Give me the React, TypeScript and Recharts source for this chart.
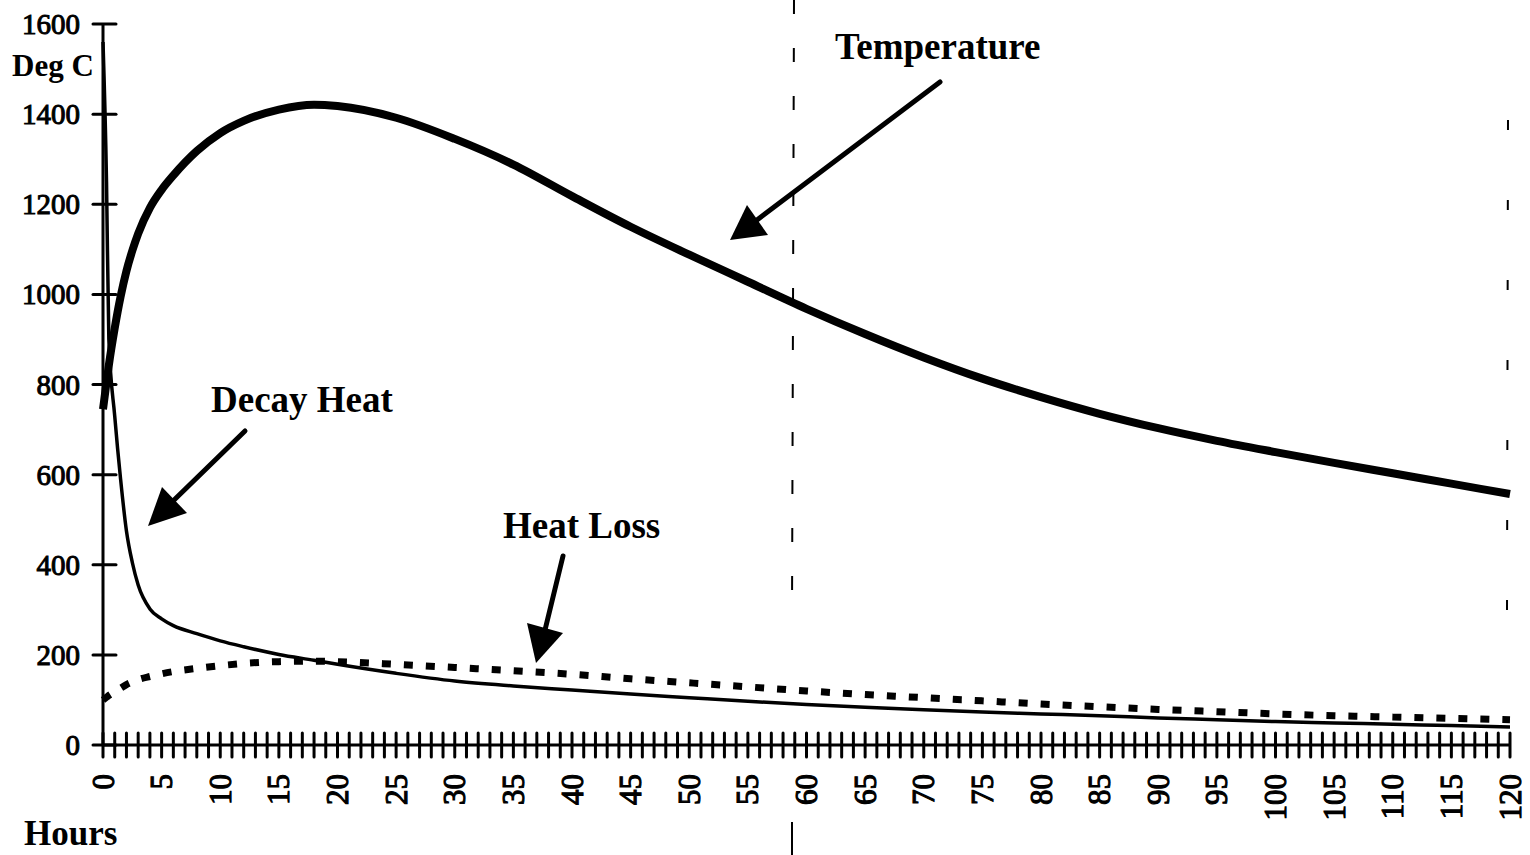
import React from 'react';
import { LineChart, Line, XAxis, YAxis } from 'recharts';

const hours = [0, 0.3, 0.5, 1, 1.5, 2, 2.5, 3, 4, 5, 6, 8, 10, 12, 15, 18, 20, 25, 30, 35, 40, 45, 50, 55, 60, 65, 70, 75, 80, 85, 90, 95, 100, 105, 110, 115, 120];
const temperature = [745, 805, 843, 925, 995, 1052, 1097, 1135, 1192, 1232, 1264, 1318, 1358, 1385, 1410, 1421, 1418, 1392, 1345, 1288, 1218, 1150, 1088, 1028, 968, 912, 860, 813, 772, 735, 703, 675, 650, 626, 603, 580, 557];
const decayHeat = [1560, 1250, 900, 730, 590, 475, 405, 355, 302, 280, 265, 247, 231, 218, 201, 188, 179, 159, 142, 131, 122, 113, 105, 97, 90, 84, 78, 73, 69, 65, 60, 56, 52, 49, 46, 43, 40];
const heatLoss = [100, 106, 110, 118, 126, 134, 140, 145, 152, 158, 163, 170, 176, 181, 185, 186, 185, 179, 172, 165, 157, 147, 138, 129, 120, 112, 105, 98, 91, 85, 79, 74, 69, 65, 62, 59, 56];

const yTicks = [0, 200, 400, 600, 800, 1000, 1200, 1400, 1600];
const hourTicks = Array.from({ length: 121 }, (_, i) => i);

const data = hours.map((h, i) => ({
  hour: h,
  temperature: temperature[i],
  decay: decayHeat[i],
  loss: heatLoss[i],
}));

const serif = '"Liberation Serif", "DejaVu Serif", serif';

const XTick = (props: any) => {
  const { x, y, payload } = props;
  const v = payload.value;
  return (
    <g>
      <line x1={x} y1={y - 12} x2={x} y2={y + 12} stroke="#000" strokeWidth={3} strokeLinecap="round" />
      {v % 5 === 0 && (
        <text
          transform={`translate(${x},${y + 29}) rotate(-90)`}
          textAnchor="end"
          dominantBaseline="central"
          fontFamily={serif}
          fontSize={31}
          fill="#000"
          stroke="#000"
          strokeWidth={1.1}
        >
          {v}
        </text>
      )}
    </g>
  );
};

const YTick = (props: any) => {
  const { x, y, payload } = props;
  return (
    <g>
      <line x1={x - 10} y1={y} x2={x + 13} y2={y} stroke="#000" strokeWidth={3} strokeLinecap="round" />
      <text
        x={x - 23}
        y={y + 10}
        textAnchor="end"
        fontFamily={serif}
        fontSize={29}
        fill="#000"
        stroke="#000"
        strokeWidth={1}
      >
        {payload.value}
      </text>
    </g>
  );
};

const labelStyle = { fontFamily: serif, fontWeight: 700, fill: '#000' } as const;

export default function App() {
  return (
    <div style={{ position: 'absolute', left: 0, top: 0, width: 1530, height: 855, background: '#fff' }}>
      <LineChart width={1530} height={855} data={data} margin={{ top: 24, right: 20, left: 23, bottom: 30 }}>
        <XAxis
          dataKey="hour"
          type="number"
          domain={[0, 120]}
          ticks={hourTicks}
          interval={0}
          height={80}
          tickSize={0}
          tickMargin={0}
          tickLine={false}
          axisLine={{ stroke: '#000', strokeWidth: 3 }}
          tick={<XTick />}
        />
        <YAxis
          type="number"
          domain={[0, 1600]}
          ticks={yTicks}
          interval={0}
          width={80}
          tickSize={0}
          tickMargin={0}
          tickLine={false}
          axisLine={{ stroke: '#000', strokeWidth: 3 }}
          tick={<YTick />}
        />
        <Line type="monotone" dataKey="loss" stroke="#000" strokeWidth={7} strokeDasharray="9 13" dot={false} isAnimationActive={false} />
        <Line type="monotone" dataKey="decay" stroke="#000" strokeWidth={3.5} dot={false} isAnimationActive={false} />
        <Line type="monotone" dataKey="temperature" stroke="#000" strokeWidth={8} dot={false} isAnimationActive={false} />
      </LineChart>
      <svg width={1530} height={855} style={{ position: 'absolute', left: 0, top: 0, pointerEvents: 'none' }}>
        {/* scan fold lines */}
        <line x1={794} y1={0} x2={792} y2={615} stroke="#000" strokeWidth={2} strokeDasharray="14 34" />
        <line x1={792} y1={822} x2={792} y2={855} stroke="#000" strokeWidth={2} />
        <line x1={1508} y1={120} x2={1507} y2={612} stroke="#000" strokeWidth={2} strokeDasharray="10 70" />

        <text x={12} y={76} fontSize={31} {...labelStyle}>Deg C</text>
        <text x={24} y={845} fontSize={35} {...labelStyle}>Hours</text>
        <text x={835} y={59} fontSize={37} {...labelStyle}>Temperature</text>
        <text x={211} y={412} fontSize={37} {...labelStyle}>Decay Heat</text>
        <text x={503} y={538} fontSize={37} {...labelStyle}>Heat Loss</text>

        <line x1={940} y1={82} x2={757} y2={220} stroke="#000" strokeWidth={5} strokeLinecap="round" />
        <polygon points="730,240 747,205 768,235" fill="#000" />
        <line x1={245} y1={431} x2={172} y2={502} stroke="#000" strokeWidth={5} strokeLinecap="round" />
        <polygon points="148,526 162,487 187,513" fill="#000" />
        <line x1={563} y1={556} x2={545} y2={630} stroke="#000" strokeWidth={5} strokeLinecap="round" />
        <polygon points="536,663 527,623 563,633" fill="#000" />
      </svg>
    </div>
  );
}
